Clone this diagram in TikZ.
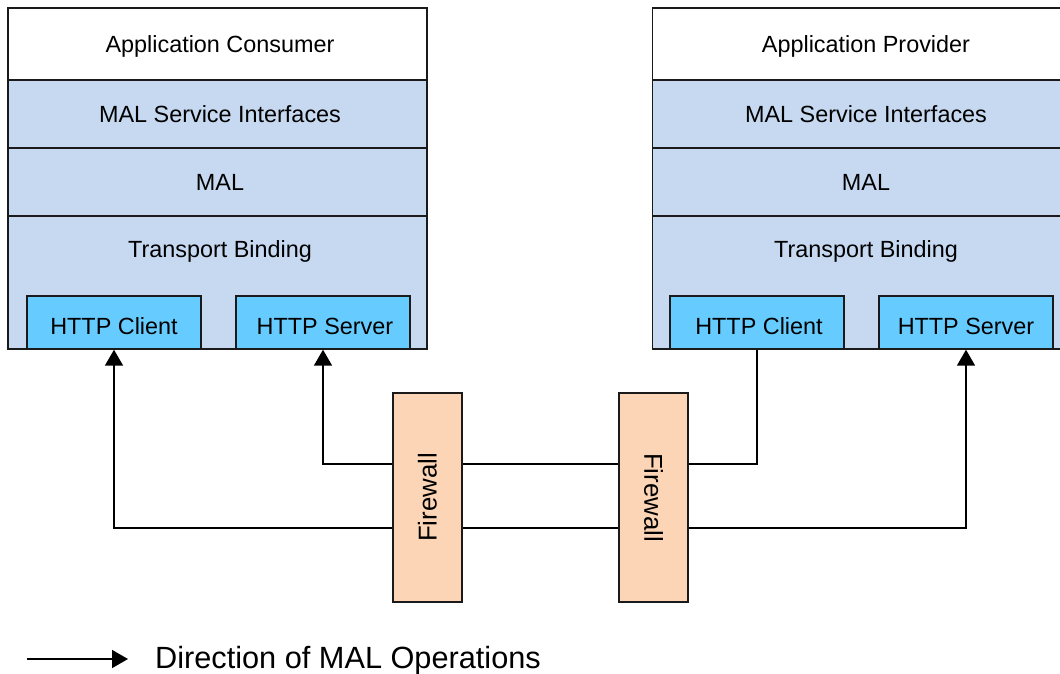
\documentclass[tikz,border=0pt]{standalone}
\usepackage{fontspec}
\setmainfont{Liberation Sans}
\usetikzlibrary{arrows.meta}
\definecolor{layerblue}{HTML}{C6D9F1}
\definecolor{httpblue}{HTML}{66CCFF}
\definecolor{fwpeach}{HTML}{FBD5B5}
\definecolor{edge}{HTML}{1A1A1A}
\tikzset{
  capfont/.style={font=\fontsize{23.4}{28}\selectfont, text height=16.8pt, text depth=0pt},
  layer/.style={draw=edge, line width=1.4pt, fill=layerblue, inner sep=0pt,
    minimum width=419pt},
  toplayer/.style={layer, fill=white},
  lbl/.style={capfont, inner sep=0pt},
  ltext/.style={lbl, xshift=2.5pt},
  rtext/.style={lbl, xshift=4pt},
  httpbox/.style={draw=edge, line width=1.4pt, fill=httpblue, inner sep=0pt,
    minimum width=174pt, minimum height=53pt},
  httplabel/.style={lbl, yshift=-4pt},
  fwbox/.style={draw=edge, line width=1.4pt, fill=fwpeach, inner sep=0pt,
    minimum width=69pt, minimum height=209pt},
  fwtext/.style={font=\fontsize{25.8}{30}\selectfont, inner sep=0pt},
  conn/.style={draw=black, line width=1.6pt},
  tip/.style={-{Triangle[width=18pt,length=16pt]}},
  tips/.style={{Triangle[width=18pt,length=16pt]}-{Triangle[width=18pt,length=16pt]}}
}
\begin{document}
\begin{tikzpicture}[x=1pt,y=-1pt]
\clip (0,0) rectangle (1060,674);
\fill[white] (0,0) rectangle (1060,674);

% consumer stack
\node[toplayer, minimum height=72pt, label={[ltext]center:Application Consumer}] (lac) at (217.5,44) {};
\node[layer, minimum height=68pt, label={[ltext]center:MAL Service Interfaces}] (lsi) at (217.5,114) {};
\node[layer, minimum height=68pt, label={[ltext]center:MAL}] (lmal) at (217.5,182) {};
\node[layer, minimum height=133pt] (ltb) at (217.5,282.5) {};
\node[lbl] (ltbt) at (220,249.5) {Transport Binding};
\node[httpbox, label={[httplabel]center:HTTP Client}] (lc) at (114,322.5) {};
\node[httpbox, label={[httplabel, xshift=2pt]center:HTTP Server}] (ls) at (323,322.5) {};

% provider stack
\node[toplayer, minimum height=72pt, label={[rtext]center:Application Provider}] (rap) at (862,44) {};
\node[layer, minimum height=68pt, label={[rtext]center:MAL Service Interfaces}] (rsi) at (862,114) {};
\node[layer, minimum height=68pt, label={[rtext]center:MAL}] (rmal) at (862,182) {};
\node[layer, minimum height=133pt] (rtb) at (862,282.5) {};
\node[lbl] (rtbt) at (866,249.5) {Transport Binding};
\node[httpbox, label={[httplabel, xshift=2pt]center:HTTP Client}] (rc) at (757,322.5) {};
\node[httpbox, label={[httplabel]center:HTTP Server}] (rs) at (966,322.5) {};

% bus levels
\coordinate (highbus) at (0,464);
\coordinate (lowbus) at (0,528);

% connectors
\draw[conn, tips] (lc.south) -- (lc.south |- lowbus) -- (rs.south |- lowbus) -- (rs.south);
\draw[conn, tip] (rc.south) -- (rc.south |- highbus) -- (ls.south |- highbus) -- (ls.south);

% firewalls
\node[fwbox] (fw1) at (427.5,497.5) {};
\node[fwtext, rotate=90] (fw1t) at (fw1.center) {Firewall};
\node[fwbox] (fw2) at (653.5,497.5) {};
\node[fwtext, rotate=-90] (fw2t) at (fw2.center) {Firewall};

% legend
\coordinate (lg1) at (27,659);
\coordinate (lg2) at (128,659);
\draw[conn, tip] (lg1) -- (lg2);
\node[anchor=west, inner sep=0pt, font=\fontsize{30.7}{36}\selectfont,
  text height=22pt, text depth=0pt] (lgt) at (155,657.5) {Direction of MAL Operations};
\end{tikzpicture}
\end{document}
